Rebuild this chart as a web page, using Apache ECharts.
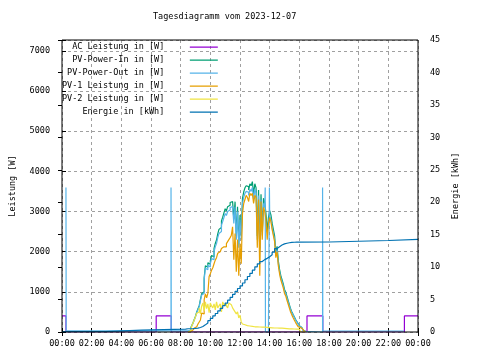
<!DOCTYPE html>
<html><head><meta charset="utf-8">
<script src="https://cdn.jsdelivr.net/npm/echarts@6/dist/echarts.min.js"></script>
<style>html,body{margin:0;padding:0;background:#fff}#c{width:480px;height:360px}</style>
</head><body><div id="c"></div>
<script>
const chartTitle = 'Tagesdiagramm vom 2023-12-07';
const seriesNames = ['AC Leistung in [W]','PV-Power-In in [W]','PV-Power-Out in [W]','PV-1 Leistung in [W]','PV-2 Leistung in [W]','Energie in [kWh]'];
const seriesColors = ['#9400d3','#009e73','#56b4e9','#e69f00','#f0e442','#0072b2'];
const xTickLabels = ['00:00','02:00','04:00','06:00','08:00','10:00','12:00','14:00','16:00','18:00','20:00','22:00','00:00'];
const leftAxisName = 'Leistung [W]';
const rightAxisName = 'Energie [kWh]';

// times in minutes since midnight
const acTimes  = [0,16,381,442,991,1055,1385,1440];
const acValues = [400,0,400,0,400,0,400,400];

const pvOutExtraTimes  = [16,17,441,442,822,823,839,1054,1055,1384];
const pvOutExtraValues = [3600,30,3600,30,3600,0,3600,3600,25,25];

// day grid 08:30 .. 16:25, every 5 minutes
const dayStart = 510, dayStep = 5;
const pvOutDay = [0,40,90,150,220,300,
 380,480,560,630,780,920,960,1300,1585,1550,1660,1620,
 1700,1830,1800,2000,2120,2200,2350,2455,2500,2660,2750,2850,
 2950,2900,3000,3035,3100,3120,3150,2700,3120,2300,3000,2100,
 2800,2300,3200,3350,3450,3500,3480,3400,3550,3500,3600,3300,
 3550,3450,2300,3400,2000,3300,2400,3200,3100,0,0,0,
 2900,2800,2600,2450,2300,1900,2050,1700,1500,1350,1250,1150,
 1020,950,850,750,650,550,480,420,360,300,250,200,
 150,110,70,40,15,0];
const pvInDay = [0,45,95,160,230,315,
 395,500,580,655,810,955,1000,1350,1650,1610,1725,1685,
 1770,1905,1870,2080,2205,2290,2445,2555,2600,2765,2860,2965,
 3070,3015,3120,3155,3225,3245,3275,2810,3245,2390,3120,2185,
 2910,2390,3330,3485,3590,3640,3620,3535,3690,3640,3745,3430,
 3690,3590,2390,3535,2080,3430,2495,3330,3225,2950,2500,2850,
 3020,2915,2710,2550,2395,1980,2135,1770,1560,1405,1300,1195,
 1060,990,885,780,675,570,500,435,375,310,260,210,
 155,115,75,42,16,0];
const pv2Day = [0,30,75,150,225,300,
 380,465,500,600,450,650,720,520,750,580,700,480,
 720,650,600,700,550,750,600,650,700,500,750,680,
 700,650,600,720,680,650,600,550,500,450,500,350,
 420,250,200,180,170,160,150,150,140,140,140,130,
 130,130,125,125,125,120,120,120,115,115,110,110,
 110,105,105,100,100,100,100,95,95,95,90,90,
 90,85,85,80,80,80,75,75,75,70,70,70,
 40,0,0,0,0,0];
const pv1Day = [0,15,30,50,70,100,
 130,160,200,250,300,470,450,800,950,850,960,1380,
 1450,1540,1600,1700,1790,1850,1960,2000,2040,2080,2120,2150,
 2120,2200,2250,2300,2350,2410,2620,1800,2450,1500,2300,1400,
 2200,1700,2950,3200,3300,3400,3350,3250,3450,3400,3450,3200,
 3400,3350,2100,3300,1400,3250,2300,3100,3000,2800,2300,2700,
 2850,2750,2550,2400,2250,1850,2000,1650,1450,1300,1200,1100,
 960,900,790,690,590,490,420,355,295,235,185,135,
 110,110,70,40,15,0];

const energyTimes = [0,177,322,500,
 510,520,530,540,550,560,570,580,590,600,610,620,630,640,650,660,670,680,690,700,
 710,720,730,740,750,760,770,780,790,800,810,820,830,840,850,860,870,880,890,900,
 910,920,930,940,950,960,1081,1321,1440];
const energyValues = [0.05,0.3,0.45,0.5,
 0.5,0.52,0.55,0.6,0.7,0.85,1.1,1.4,1.75,2.1,2.5,2.85,3.25,3.65,4.05,4.45,4.9,5.35,5.8,6.25,
 6.7,7.1,7.55,8.05,8.55,9.05,9.55,10.05,10.5,10.85,11.15,11.35,11.6,11.9,12.3,12.85,13.15,13.4,13.58,13.68,
 13.75,13.8,13.83,13.85,13.86,13.87,14.1,14.27,14.27];

const dayTimes = pvOutDay.map((_, i) => dayStart + i * dayStep);
const zip = (t, v) => t.map((x, i) => [x, v[i]]);
const pvOutData = zip(dayTimes, pvOutDay).concat(zip(pvOutExtraTimes, pvOutExtraValues)).sort((a, b) => a[0] - b[0]);

const FONT = 'DejaVu Sans Mono';
const FS = 8.5;
const chart = echarts.init(document.getElementById('c'), null, {renderer: 'canvas'});

function mkSeries(i, data, yIdx) {
  return {
    name: seriesNames[i], type: 'line', step: 'end', data: data, yAxisIndex: yIdx || 0,
    symbol: 'none', showSymbol: false, animation: false,
    lineStyle: {color: seriesColors[i], width: 1.2}, itemStyle: {color: seriesColors[i]}
  };
}

chart.setOption({
  animation: false,
  backgroundColor: '#fff',
  textStyle: {fontFamily: FONT, fontSize: FS, color: '#000'},
  title: {text: chartTitle, left: 153, top: 12, padding: 0,
    textStyle: {fontFamily: FONT, fontSize: FS, fontWeight: 'normal', color: '#000'}},
  grid: {left: 58, right: 62, top: 40, bottom: 28, show: true, borderColor: '#000', borderWidth: 1, z: 10, backgroundColor: 'transparent'},
  legend: {
    orient: 'vertical', left: 62, top: 42, padding: 0, align: 'right',
    icon: 'path://M0,0h0.01v0.01h-0.01zM0,4.4h28v1.3h-28zM0,9.99h0.01v0.01h-0.01z',
    itemWidth: 28, itemHeight: 10, itemGap: 3,
    formatter: n => n + '    ',
    textStyle: {fontFamily: FONT, fontSize: FS, color: '#000'},
    data: seriesNames
  },
  xAxis: [{
    type: 'value', min: 0, max: 1440, interval: 120, position: 'bottom',
    axisLine: {show: false},
    axisTick: {show: true, inside: true, length: 4, lineStyle: {color: '#000'}},
    axisLabel: {margin: 7, fontFamily: FONT, fontSize: FS, color: '#000',
      formatter: v => xTickLabels[Math.round(v / 120)]},
    splitLine: {show: true, lineStyle: {color: '#a0a0a0', type: [3, 3], width: 1}}
  }, {
    type: 'value', min: 0, max: 1440, interval: 120, position: 'top',
    axisLine: {show: false}, axisLabel: {show: false}, splitLine: {show: false},
    axisTick: {show: true, inside: true, length: 4, lineStyle: {color: '#000'}}
  }],
  yAxis: [{
    type: 'value', min: 0, max: 7270, interval: 1000, position: 'left',
    name: leftAxisName, nameLocation: 'middle', nameGap: 45, nameRotate: 90,
    nameTextStyle: {fontFamily: FONT, fontSize: FS, color: '#000'},
    axisLine: {show: false},
    axisTick: {show: true, inside: true, length: 4, lineStyle: {color: '#000'}},
    axisLabel: {margin: 12, fontFamily: FONT, fontSize: FS, color: '#000',
      formatter: v => (v % 1000 === 0 ? String(v) : '')},
    splitLine: {show: true, lineStyle: {color: '#a0a0a0', type: [3, 3], width: 1}}
  }, {
    type: 'value', min: 0, max: 45, interval: 5, position: 'right',
    name: rightAxisName, nameLocation: 'middle', nameGap: 31, nameRotate: 90,
    nameTextStyle: {fontFamily: FONT, fontSize: FS, color: '#000'},
    axisLine: {show: false},
    axisTick: {show: true, inside: true, length: 4, lineStyle: {color: '#000'}},
    axisLabel: {margin: 12, fontFamily: FONT, fontSize: FS, color: '#000'},
    splitLine: {show: false}
  }],
  series: [
    mkSeries(0, zip(acTimes, acValues)),
    mkSeries(1, zip(dayTimes, pvInDay)),
    mkSeries(2, pvOutData),
    mkSeries(3, zip(dayTimes, pv1Day)),
    mkSeries(4, zip(dayTimes, pv2Day)),
    mkSeries(5, zip(energyTimes, energyValues), 1)
  ]
});
</script></body></html>
